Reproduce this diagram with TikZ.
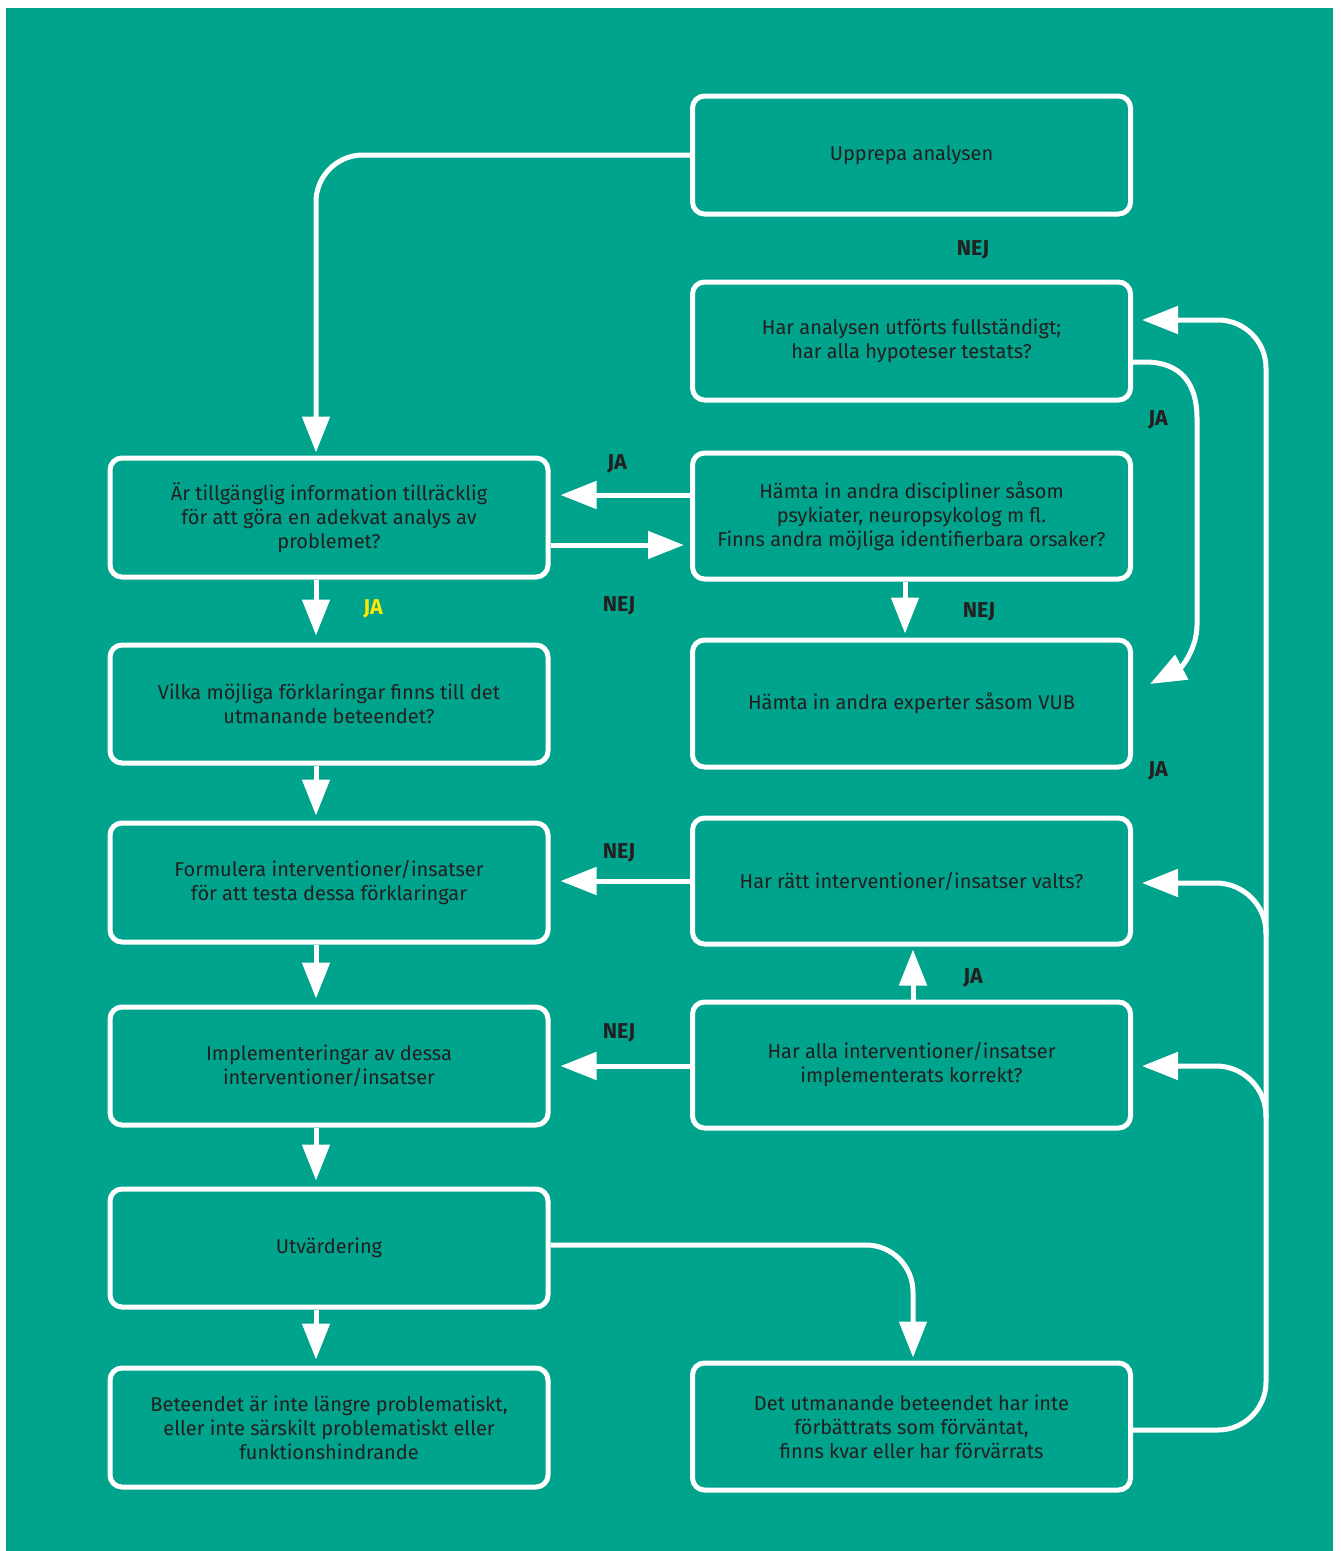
\documentclass[tikz,border=0pt]{standalone}
\usepackage{fontspec}
\setmainfont{Fira Sans}
\usetikzlibrary{arrows.meta,positioning}
\definecolor{chartteal}{RGB}{0,163,139}
\definecolor{inkgray}{RGB}{35,31,32}
\definecolor{jayellow}{RGB}{255,230,0}

\begin{document}
\begin{tikzpicture}[x=1pt,y=-1pt,
  box/.style={draw=white,line width=5pt,rounded corners=12pt,minimum width=438pt,minimum height=118pt,align=center,text=inkgray,font=\fontsize{20}{24}\selectfont},
  flow/.style={draw=white,line width=5pt,-{Triangle[length=36pt,width=27pt]}},
  answer/.style={text=inkgray,font=\fontsize{21.5}{24}\selectfont\bfseries}]

\path[use as bounding box,fill=white] (0,0) rectangle (1341,1551);
\fill[chartteal] (6,8) rectangle (1333,1551);

% left column
\node[box,minimum height=119pt] (arinfo) at (329,517.5) {Är tillgänglig information tillräcklig\\för att göra en adekvat analys av\\problemet?};
\node[box] (vilka) at (329,704) {Vilka möjliga förklaringar finns till det\\utmanande beteendet?};
\node[box,minimum height=119pt] (formulera) at (329,882.5) {Formulera interventioner/insatser\\för att testa dessa förklaringar};
\node[box] (implement) at (329,1066) {Implementeringar av dessa\\interventioner/insatser};
\node[box] (utvard) at (329,1248) {Utvärdering};
\node[box,minimum height=119pt] (beteendet) at (329,1427.5) {Beteendet är inte längre problematiskt,\\eller inte särskilt problematiskt eller\\funktionshindrande};

% right column
\node[box] (upprepa) at (911.5,155) {Upprepa analysen};
\node[box] (harana) at (911.5,341) {Har analysen utförts fullständigt;\\har alla hypoteser testats?};
\node[box,minimum height=126pt] (hamtadisc) at (911.5,516) {Hämta in andra discipliner såsom\\psykiater, neuropsykolog m fl.\\Finns andra möjliga identifierbara orsaker?};
\node[box,minimum height=127pt] (hamtaexp) at (911.5,703.5) {Hämta in andra experter såsom VUB};
\node[box,minimum height=126pt] (harratt) at (911.5,881) {Har rätt interventioner/insatser valts?};
\node[box,minimum height=126pt] (haralla) at (911.5,1065) {Har alla interventioner/insatser\\implementerats korrekt?};
\node[box,minimum height=127pt] (detutm) at (911.5,1426.5) {Det utmanande beteendet har inte\\förbättrats som förväntat,\\finns kvar eller har förvärrats};

\coordinate (tapratt) at (1266,935);
\coordinate (tapalla) at (1266,1118);

% straight arrows
\draw[flow,shorten >=7pt] ([xshift=-13pt]arinfo.south) -- ([xshift=-13pt]vilka.north);
\draw[flow,shorten >=5pt] ([xshift=-13pt]vilka.south) -- ([xshift=-13pt]formulera.north);
\draw[flow,shorten >=6pt] ([xshift=-13pt]formulera.south) -- ([xshift=-13pt]implement.north);
\draw[flow,shorten >=6pt] ([xshift=-13pt]implement.south) -- ([xshift=-13pt]utvard.north);
\draw[flow,shorten >=6pt] ([xshift=-13pt]utvard.south) -- ([xshift=-13pt]beteendet.north);

\draw[flow,shorten >=10pt] (hamtadisc.west |- 0,495) -- (arinfo.east |- 0,495);
\draw[flow,shorten >=6pt] (arinfo.east |- 0,545) -- (hamtadisc.west |- 0,545);
\draw[flow,shorten >=4pt] ([xshift=-6.5pt]hamtadisc.south) -- ([xshift=-6.5pt]hamtaexp.north);
\draw[flow,shorten >=10pt] (harratt.west) -- (harratt.west -| formulera.east);
\draw[flow,shorten >=10pt] (haralla.west |- 0,1066) -- (implement.east);
\draw[flow,shorten >=3pt] ([xshift=1.5pt]haralla.north) -- ([xshift=1.5pt]harratt.south);

% bent arrows
\draw[flow,rounded corners=47pt,shorten >=3pt] (upprepa.west) -| ([xshift=-13pt]arinfo.north);
\draw[flow,rounded corners=47pt,shorten >=3pt] ([yshift=3pt]utvard.east) -| ([xshift=1.5pt]detutm.north);
\draw[flow] ([yshift=-21pt]harana.east) -- (1145,362) .. controls (1182,362) and (1197,385) .. (1197,418) -- (1197,625) .. controls (1197,648) and (1182,667) .. (1150,684);
\draw[flow,rounded corners=48pt,shorten >=9pt] ([yshift=-3.5pt]detutm.east) -- (1266,1430) -- (1266,320) -- (harana.east |- 0,320);
\draw[flow,rounded corners=50pt,shorten >=9pt] (tapratt) -- (1266,883) -- (harratt.east |- 0,883);
\draw[flow,rounded corners=50pt,shorten >=9pt] (tapalla) -- (1266,1066) -- (haralla.east |- 0,1066);

% answers
\node[answer] (nejupp) at (973,250) {NEJ};
\node[answer] (jaana) at (1158,420) {JA};
\node[answer] (jadisc) at (617,464) {JA};
\node[answer,text=jayellow] (jainfo) at (373,609) {JA};
\node[answer] (nejinfo) at (619,606) {NEJ};
\node[answer] (nejdisc) at (979,612) {NEJ};
\node[answer] (jaexp) at (1158,771) {JA};
\node[answer] (nejratt) at (619,853) {NEJ};
\node[answer] (jaalla) at (973,978) {JA};
\node[answer] (nejalla) at (619,1033) {NEJ};

\end{tikzpicture}
\end{document}
